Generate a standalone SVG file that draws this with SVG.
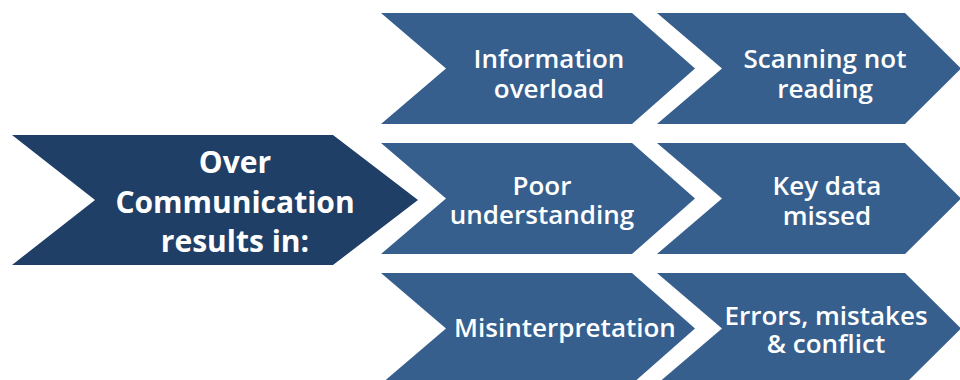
<svg xmlns="http://www.w3.org/2000/svg" width="960" height="380" viewBox="0 0 960 380">
<style>
.main{fill:#1F3F66}
.step{fill:#365F8E}
.big{font-family:"Open Sans","Liberation Sans",sans-serif;font-weight:700;font-size:30px;fill:#FFFFFF;text-anchor:middle}
.lbl{font-family:"Open Sans","Liberation Sans",sans-serif;font-weight:600;font-size:26px;fill:#FFFFFF;text-anchor:middle}
</style>
<rect width="960" height="380" fill="#FFFFFF"/>
<g id="over-communication">
<polygon class="main" points="12,135 333,135 418,200 333,265 12,265 95,200"/>
<text class="big" x="235" y="173">Over</text>
<text class="big" x="235" y="213">Communication</text>
<text class="big" x="235" y="252">results in:</text>
</g>
<g id="information-overload">
<polygon class="step" points="381,13 632,13 695,68.5 632,124 381,124 446,68.5"/>
<text class="lbl" x="549" y="68">Information</text>
<text class="lbl" x="549" y="98">overload</text>
</g>
<g id="scanning-not-reading">
<polygon class="step" points="657,13 905,13 961,68.5 905,124 657,124 722,68.5"/>
<text class="lbl" x="825" y="68">Scanning not</text>
<text class="lbl" x="825" y="98">reading</text>
</g>
<g id="poor-understanding">
<polygon class="step" points="381,143 632,143 695,198.5 632,254 381,254 446,198.5"/>
<text class="lbl" x="542" y="195">Poor</text>
<text class="lbl" x="542" y="224">understanding</text>
</g>
<g id="key-data-missed">
<polygon class="step" points="657,143 905,143 961,198.5 905,254 657,254 722,198.5"/>
<text class="lbl" x="827" y="195">Key data</text>
<text class="lbl" x="827" y="225">missed</text>
</g>
<g id="misinterpretation">
<polygon class="step" points="381,273 632,273 695,328.5 632,384 381,384 446,328.5"/>
<text class="lbl" x="565" y="337">Misinterpretation</text>
</g>
<g id="errors-mistakes-conflict">
<polygon class="step" points="657,273 905,273 961,328.5 905,384 657,384 722,328.5"/>
<text class="lbl" x="826" y="325">Errors, mistakes</text>
<text class="lbl" x="826" y="353">&amp; conflict</text>
</g>
</svg>
